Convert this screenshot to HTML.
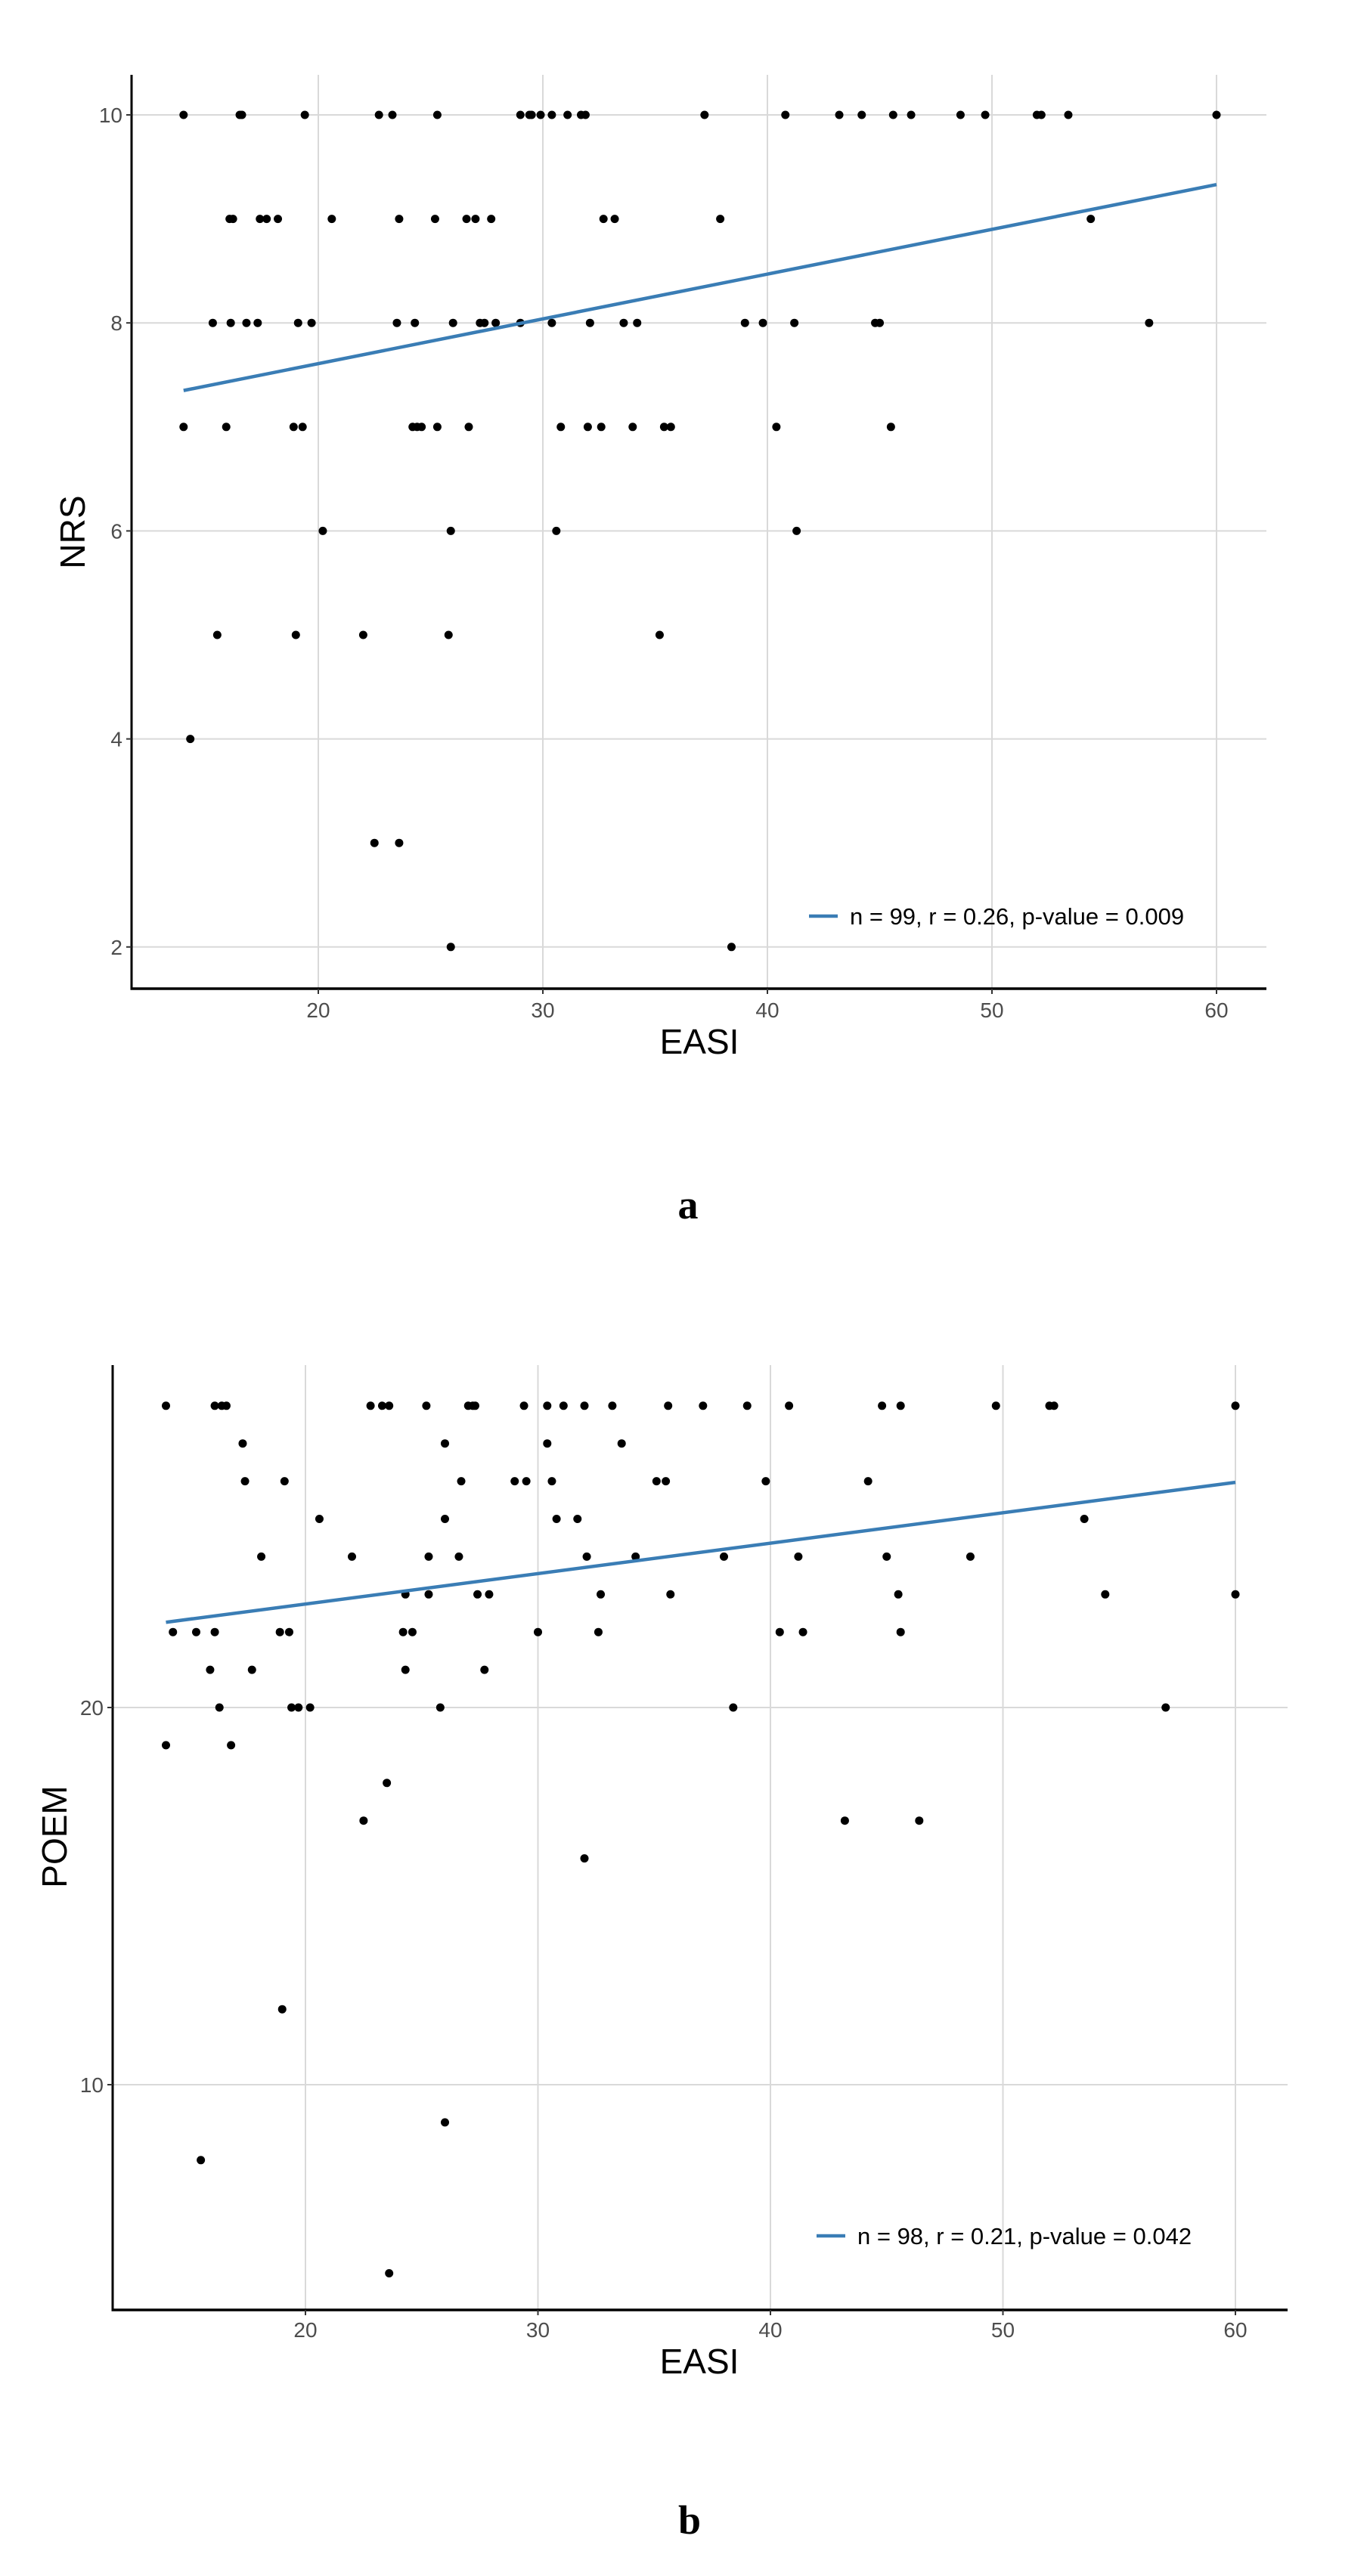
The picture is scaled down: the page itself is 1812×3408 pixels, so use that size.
<!DOCTYPE html>
<html><head><meta charset="utf-8"><style>
html,body{margin:0;padding:0;background:#fff;}
svg{display:block;}
</style></head><body>
<svg id="fig" width="1812" height="3408" viewBox="0 0 1812 3408" xmlns="http://www.w3.org/2000/svg"></svg>
<script>
// Panel a data (EASI vs NRS)
const aNrsLevels = [10,9,8,7,6,5,4,3,2];
const aEasiByLevel = [
 [14.0,16.5,16.6,19.4,22.7,23.3,25.3,29.0,29.4,29.5,29.9,30.4,31.1,31.7,31.9,37.2,40.8,43.2,44.2,45.6,46.4,48.6,49.7,52.0,52.2,53.4,60.0],
 [16.05,16.2,17.4,17.7,18.2,20.6,23.6,25.2,26.6,27.0,27.7,32.7,33.2,37.9,54.4],
 [15.3,16.1,16.8,17.3,19.1,19.7,23.5,24.3,26.0,27.2,27.4,27.9,29.0,30.4,32.1,33.6,34.2,39.0,39.8,41.2,44.8,45.0,57.0],
 [14.0,15.9,18.9,19.3,24.2,24.4,24.6,25.3,26.7,30.8,32.0,32.6,34.0,35.4,35.7,40.4,45.5],
 [20.2,25.9,30.6,41.3],
 [15.5,19.0,22.0,25.8,35.2],
 [14.3],
 [22.5,23.6],
 [25.9,38.4]
];
const aFitX = [14, 60];
const aFitY = [7.35, 9.33];
const aXTicks = [20,30,40,50,60];
const aYTicks = [2,4,6,8,10];
const aLegend = "n = 99, r = 0.26, p-value = 0.009";

// Panel b data (EASI vs POEM)
const bPoemLevels = [28,27,26,25,24,23,22,21,20,19,18,17,16,12,9,8,5];
const bEasiByLevel = [
 [14.0,16.1,16.4,16.6,22.8,23.3,23.6,25.2,27.0,27.2,27.3,29.4,30.4,31.1,32.0,33.2,35.6,37.1,39.0,40.8,44.8,45.6,49.7,52.0,52.2,60.0],
 [17.3,26.0,30.4,33.6],
 [17.4,19.1,26.7,29.0,29.5,30.6,35.1,35.5,39.8,44.2],
 [20.6,26.0,30.8,31.7,53.5],
 [18.1,22.0,25.3,26.6,32.1,34.2,38.0,41.2,45.0,48.6],
 [24.3,25.3,27.4,27.9,32.7,35.7,45.5,54.4,60.0],
 [14.3,15.3,16.1,18.9,19.3,24.2,24.6,30.0,32.6,40.4,41.4,45.6],
 [15.9,17.7,24.3,27.7],
 [16.3,19.4,19.7,20.2,25.8,38.4,57.0],
 [14.0,16.8],
 [23.5],
 [22.5,43.2,46.4],
 [32.0],
 [19.0],
 [26.0],
 [15.5],
 [23.6]
];
const bFitX = [14, 60];
const bFitY = [22.26, 25.97];
const bXTicks = [20,30,40,50,60];
const bYTicks = [10,20];
const bLegend = "n = 98, r = 0.21, p-value = 0.042";

const NS = "http://www.w3.org/2000/svg";
const svg = document.getElementById('fig');
function mk(tag, attrs, parent){
  const e = document.createElementNS(NS, tag);
  for (const k in attrs) e.setAttribute(k, attrs[k]);
  (parent||svg).appendChild(e);
  return e;
}

function panel(cfg){
  const g = mk('g', {});
  
  
  const X = v => cfg.x0 + (v - 20) * cfg.xs;
  const Y = v => cfg.y0 + (cfg.yref - v) * cfg.ys;
  cfg.xTicks.forEach(t => {
    const l = mk('line', {x1:X(t), x2:X(t), y1:cfg.top, y2:cfg.bottom, stroke:'#d9d9d9', 'stroke-width':2}, g);
    
    
  });
  cfg.yTicks.forEach(t => {
    const l = mk('line', {x1:cfg.left, x2:cfg.right, y1:Y(t), y2:Y(t), stroke:'#d9d9d9', 'stroke-width':2}, g);
    
    
  });
  cfg.levels.forEach((lv, i) => {
    cfg.byLevel[i].forEach(xv => {
      const c = mk('circle', {cx:X(xv), cy:Y(lv), r:5.5, fill:'#000'}, g);
      
      
    });
  });
  const fl = mk('line', {x1:X(cfg.fitX[0]), y1:Y(cfg.fitY[0]), x2:X(cfg.fitX[1]), y2:Y(cfg.fitY[1]), stroke:'#3a7db5', 'stroke-width':4.5}, g);
  
  
  const ya = mk('line', {x1:cfg.left, x2:cfg.left, y1:cfg.top, y2:cfg.bottom+1.5, stroke:'#000', 'stroke-width':3}, g);
  
  
  const xa = mk('line', {x1:cfg.left-1.5, x2:cfg.right, y1:cfg.bottom, y2:cfg.bottom, stroke:'#000', 'stroke-width':3.5}, g);
  
  
  cfg.xTicks.forEach(t => {
    const tk = mk('line', {x1:X(t), x2:X(t), y1:cfg.bottom, y2:cfg.bottom+7, stroke:'#333', 'stroke-width':2}, g);
    
    
    const tx = mk('text', {x:X(t), y:cfg.xLabY, 'text-anchor':'middle', 'font-family':'Liberation Sans, sans-serif', 'font-size':28, fill:'#4d4d4d'}, g);
    tx.textContent = t;
    
    
  });
  cfg.yTicks.forEach(t => {
    const tk = mk('line', {x1:cfg.left-7, x2:cfg.left, y1:Y(t), y2:Y(t), stroke:'#333', 'stroke-width':2}, g);
    
    
    const tx = mk('text', {x:cfg.left-12, y:Y(t)+10, 'text-anchor':'end', 'font-family':'Liberation Sans, sans-serif', 'font-size':28, fill:'#4d4d4d'}, g);
    tx.textContent = t;
    
    
  });
  const xt = mk('text', {x:cfg.xTitleX, y:cfg.xTitleY, 'text-anchor':'middle', 'font-family':'Liberation Sans, sans-serif', 'font-size':46, fill:'#000'}, g);
  xt.textContent = 'EASI';
  
  
  const yt = mk('text', {x:0, y:0, transform:`translate(${cfg.yTitleX},${cfg.yTitleY}) rotate(-90)`, 'text-anchor':'middle', 'font-family':'Liberation Sans, sans-serif', 'font-size':46, fill:'#000'}, g);
  yt.textContent = cfg.yTitle;
  
  
  const lg = mk('g', {}, g);
  
  
  mk('line', {x1:cfg.legX, x2:cfg.legX+38, y1:cfg.legY, y2:cfg.legY, stroke:'#3a7db5', 'stroke-width':4.5}, lg);
  const lt = mk('text', {x:cfg.legX+54, y:cfg.legY+11, 'font-family':'Liberation Sans, sans-serif', 'font-size':31, fill:'#000'}, lg);
  lt.textContent = cfg.legend;
  const pl = mk('text', {x:cfg.letterX, y:cfg.letterY, 'text-anchor':'middle', 'font-family':'Liberation Serif, serif', 'font-weight':'bold', 'font-size':54, fill:'#000'}, g);
  pl.textContent = cfg.letter;
  
  
}

panel({name:'panel-a-nrs-chart', x0:421, xs:29.7, y0:152, yref:10, ys:137.6,
  left:174, right:1675, top:99, bottom:1308,
  xTicks:aXTicks, yTicks:aYTicks, levels:aNrsLevels, byLevel:aEasiByLevel,
  fitX:aFitX, fitY:aFitY, xLabY:1346, xTitleX:925, xTitleY:1394, yTitle:'NRS', yTitleX:112, yTitleY:704,
  legend:aLegend, legX:1070, legY:1212, letter:'a', letterX:910, letterY:1612});

panel({name:'panel-b-poem-chart', x0:404, xs:30.75, y0:2259, yref:20, ys:49.9,
  left:149, right:1703, top:1806, bottom:3056,
  xTicks:bXTicks, yTicks:bYTicks, levels:bPoemLevels, byLevel:bEasiByLevel,
  fitX:bFitX, fitY:bFitY, xLabY:3092, xTitleX:925, xTitleY:3140, yTitle:'POEM', yTitleX:88, yTitleY:2430,
  legend:bLegend, legX:1080, legY:2958, letter:'b', letterX:912, letterY:3352});
</script>
</body></html>
